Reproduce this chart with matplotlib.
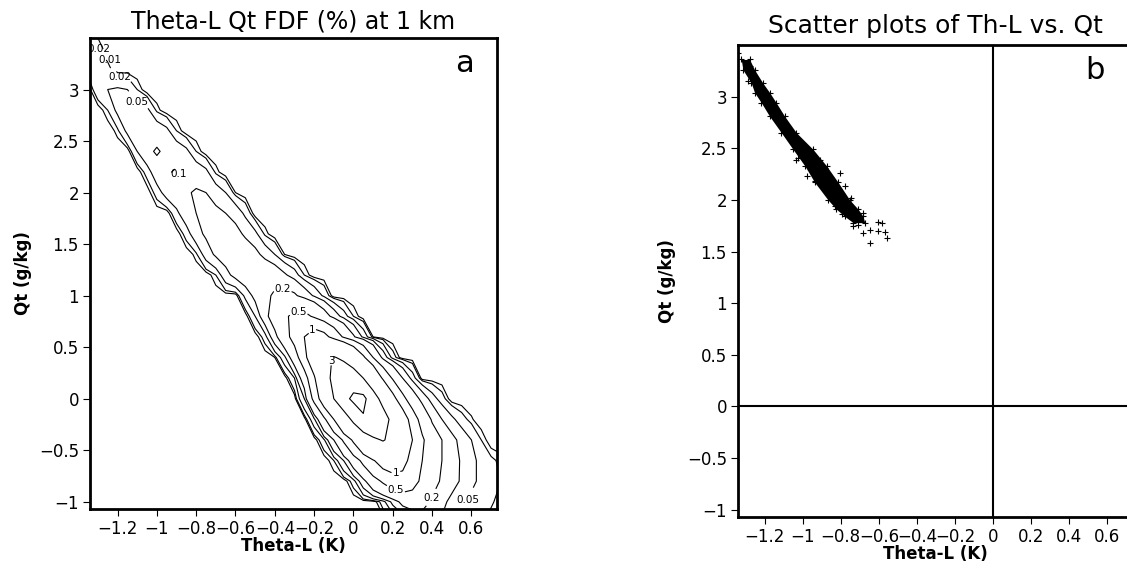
import numpy as np
import matplotlib
matplotlib.use("Agg")
import matplotlib.pyplot as plt

# ---- panel a: FDF (%), rows of Qt on a 0.05 K Theta-L grid
theta_grid = np.round(np.arange(-1.4, 0.8001, 0.05), 2)
qt_rows = [3.6, 3.4, 3.2, 3.0, 2.8, 2.6, 2.4, 2.2, 2.0, 1.8, 1.6, 1.4, 1.2,
           1.0, 0.8, 0.6, 0.4, 0.2, 0.0, -0.2, -0.4, -0.6, -0.8, -1.0, -1.2]
row_start = [-1.4, -1.4, -1.4, -1.3, -1.25, -1.2, -1.1, -1.05, -1.0, -0.9, -0.85,
             -0.8, -0.7, -0.55, -0.5, -0.45, -0.4, -0.3, -0.25, -0.2, -0.15,
             -0.1, 0.0, 0.15, 0.3]
row_fdf = [
    [0.02],
    [0.02, 0.03, 0.02],
    [0.012, 0.03, 0.035, 0.03],
    [0.04, 0.05, 0.055, 0.05, 0.02],
    [0.02, 0.06, 0.07, 0.07, 0.06, 0.015],
    [0.015, 0.06, 0.085, 0.09, 0.08, 0.06, 0.02],
    [0.05, 0.09, 0.105, 0.09, 0.08, 0.06, 0.02],
    [0.03, 0.08, 0.095, 0.105, 0.09, 0.08, 0.06, 0.015],
    [0.03, 0.07, 0.085, 0.095, 0.105, 0.1, 0.075, 0.05, 0.01],
    [0.04, 0.08, 0.1, 0.11, 0.115, 0.1, 0.08, 0.04],
    [0.03, 0.08, 0.11, 0.12, 0.13, 0.12, 0.09, 0.06, 0.015],
    [0.015, 0.07, 0.11, 0.13, 0.15, 0.14, 0.12, 0.08, 0.05, 0.01],
    [0.02, 0.08, 0.12, 0.15, 0.17, 0.17, 0.15, 0.11, 0.07, 0.02],
    [0.06, 0.12, 0.17, 0.22, 0.25, 0.22, 0.15, 0.09, 0.04],
    [0.05, 0.15, 0.3, 0.45, 0.58, 0.6, 0.45, 0.28, 0.15, 0.07, 0.02],
    [0.03, 0.15, 0.35, 0.65, 1.0, 1.35, 1.2, 0.8, 0.45, 0.22, 0.08, 0.01],
    [0.01, 0.08, 0.3, 0.8, 1.6, 2.6, 3.1, 2.7, 1.9, 1.1, 0.5, 0.15, 0.03],
    [0.05, 0.3, 0.9, 2.0, 3.6, 4.3, 4.0, 3.0, 1.8, 0.9, 0.45, 0.2, 0.07],
    [0.1, 0.6, 1.4, 3.0, 4.4, 5.4, 5.5, 3.8, 2.4, 1.2, 0.6, 0.3, 0.15, 0.07, 0.03],
    [0.08, 0.4, 1.0, 2.0, 3.4, 4.8, 4.9, 3.8, 2.5, 1.4, 0.7, 0.35, 0.18, 0.1,
     0.06, 0.03, 0.012],
    [0.04, 0.2, 0.55, 1.1, 1.9, 2.7, 3.1, 2.6, 1.8, 1.0, 0.55, 0.3, 0.2, 0.12,
     0.08, 0.05, 0.02],
    [0.02, 0.1, 0.3, 0.6, 0.95, 1.3, 1.4, 1.2, 0.8, 0.5, 0.3, 0.2, 0.14, 0.09,
     0.06, 0.04, 0.025, 0.015, 0.01],
    [0.03, 0.15, 0.35, 0.55, 0.75, 0.8, 0.65, 0.42, 0.26, 0.18, 0.13, 0.09,
     0.06, 0.04, 0.03, 0.02, 0.015],
    [0.03, 0.12, 0.25, 0.3, 0.26, 0.18, 0.12, 0.08, 0.06, 0.04, 0.03, 0.022,
     0.015, 0.01],
    [0.05, 0.12, 0.12, 0.09, 0.06, 0.04, 0.03, 0.02, 0.015, 0.01, 0.008],
]
levels = [0.01, 0.02, 0.05, 0.1, 0.2, 0.5, 1, 3, 5]
label_spots = {0.01: [(-1.245, 3.28)],
               0.02: [(-1.29, 3.40), (-1.19, 3.08)],
               0.05: [(-1.11, 2.87), (0.56, -0.96)],
               0.1: [(-0.85, 2.13)],
               0.2: [(-0.36, 1.06), (0.33, -0.9)],
               0.5: [(-0.28, 0.85), (0.22, -0.85)],
               1: [(-0.2, 0.64), (0.22, -0.75)],
               3: [(-0.13, 0.37)]}

# ---- panel b: outline of the dense cloud and the stray points
env_qt = [3.36, 3.26, 3.13, 3.04, 2.94, 2.81, 2.65, 2.49, 2.33, 2.17, 2.00, 1.91, 1.84, 1.78]
env_left = [-1.323, -1.314, -1.270, -1.253, -1.217, -1.174, -1.112, -1.051,
            -0.989, -0.937, -0.867, -0.823, -0.779, -0.735]
env_right = [-1.279, -1.253, -1.209, -1.174, -1.139, -1.095, -1.033, -0.946,
             -0.875, -0.814, -0.753, -0.709, -0.683, -0.674]
stray_theta = [-1.341, -1.296, -1.279, -1.288, -1.226, -1.165, -1.033, -1.025,
               -0.98, -0.937, -0.91, -0.884, -0.849, -0.832, -0.805, -0.796,
               -0.779, -0.744, -0.735, -0.709, -0.683, -0.683, -0.647, -0.647,
               -0.604, -0.604, -0.586, -0.568, -0.559]
stray_qt = [3.42, 3.33, 3.30, 3.15, 3.13, 2.86, 2.39, 2.41, 2.23, 2.18, 2.39,
            2.31, 2.04, 1.94, 2.26, 1.86, 2.13, 2.02, 1.75, 1.76, 1.87, 1.68,
            1.71, 1.58, 1.79, 1.70, 1.78, 1.69, 1.63]

xticks = [-1.2, -1.0, -0.8, -0.6, -0.4, -0.2, 0.0, 0.2, 0.4, 0.6]
yticks = [-1, -0.5, 0, 0.5, 1, 1.5, 2, 2.5, 3]


def fmt(v):
    return f"{v:g}".replace("-", "\u2212")


fdf = np.zeros((len(qt_rows), len(theta_grid)))
for i, (x0, vals) in enumerate(zip(row_start, row_fdf)):
    j = int(round((x0 - theta_grid[0]) / 0.05))
    fdf[i, j:j + len(vals)] = vals
qt = np.array(qt_rows)[::-1]
fdf = fdf[::-1]

fig = plt.figure(figsize=(11.27, 5.65), dpi=100)
ax_a = fig.add_axes([90 / 1127, 56 / 565, 407 / 1127, 471 / 565])
ax_b = fig.add_axes([738 / 1127, 48 / 565, 394 / 1127, 472 / 565])

# one contour set per level so each label lands on its own line
for lv in levels:
    cs = ax_a.contour(theta_grid, qt, fdf, levels=[lv], colors="black", linewidths=0.8)
    if lv in label_spots:
        texts = ax_a.clabel(cs, manual=label_spots[lv], fmt="%g", fontsize=7.5,
                            inline=True, inline_spacing=1)
        for t in texts:
            t.set_rotation(0)

ax_b.fill_betweenx(env_qt, env_left, env_right, color="black", lw=0)
ax_b.scatter(env_left + env_right + stray_theta, env_qt + env_qt + stray_qt,
             marker="+", s=16, color="black", linewidths=0.8)
ax_b.axhline(0, color="black", lw=1.5)
ax_b.axvline(0, color="black", lw=1.5)

for ax, title, size, pad in [(ax_a, "Theta-L Qt FDF (%) at 1 km", 17, 7),
                             (ax_b, "Scatter plots of Th-L vs. Qt", 18, 9)]:
    ax.set_xlim(-1.34, 0.73)
    ax.set_ylim(-1.07, 3.5)
    ax.set_xticks(xticks)
    ax.set_xticklabels([fmt(v) for v in xticks])
    ax.set_yticks(yticks)
    ax.set_yticklabels([fmt(v) for v in yticks])
    ax.tick_params(direction="out", length=5, width=0.8, labelsize=12, pad=3)
    for sp in ax.spines.values():
        sp.set_linewidth(2)
    ax.set_title(title, fontsize=size, pad=pad)
    ax.set_xlabel("Theta-L (K)", fontsize=12, fontweight="bold", labelpad=-1)

ax_a.set_ylabel("Qt (g/kg)", fontsize=12, fontweight="bold", labelpad=5)
ax_b.set_ylabel("Qt (g/kg)", fontsize=12, fontweight="bold", labelpad=8)
ax_a.text(0.919, 0.945, "a", transform=ax_a.transAxes, fontsize=22,
          ha="center", va="center")
ax_b.text(0.906, 0.945, "b", transform=ax_b.transAxes, fontsize=22,
          ha="center", va="center")

fig.savefig("out.png", dpi=100)
